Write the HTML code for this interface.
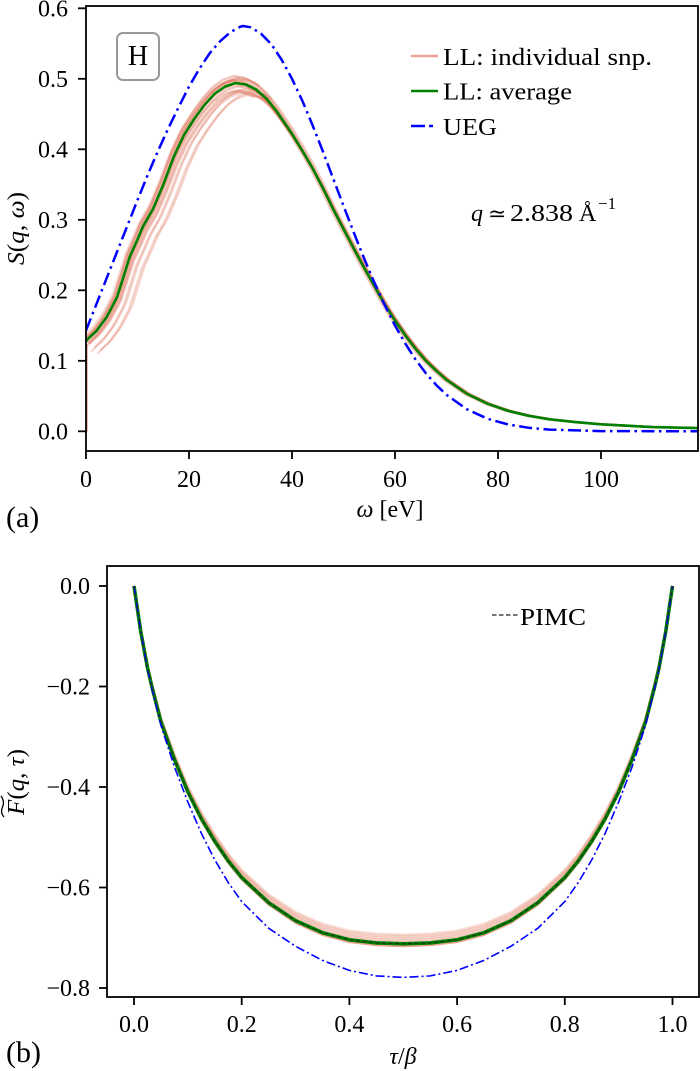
<!DOCTYPE html>
<html>
<head>
<meta charset="utf-8">
<style>
  html, body { margin: 0; padding: 0; background: #ffffff; }
  svg { display: block; }
  text { font-family: "Liberation Serif", "DejaVu Serif", serif; fill: #000; }
  .it { font-style: italic; }
</style>
</head>
<body>
<svg width="700" height="1071" viewBox="0 0 700 1071" xmlns="http://www.w3.org/2000/svg">
  <defs>
    <clipPath id="clipA"><rect x="86" y="6" width="612" height="445"/></clipPath>
    <clipPath id="clipB"><rect x="107" y="566" width="592" height="431"/></clipPath>
    <path id="llS" d="M86,341 L88.6,338.2 L96.3,331.2 L106.6,317.1 L116.9,297.4 L122.1,281.1 L129.8,256.5 L137.5,239.5 L142.7,226.9 L152.9,209.2 L163.3,184.6 L173.6,157.1 L183.9,135.2 L194.2,119 L204.5,104.9 L214.8,93.6 L225.1,86.6 L235.4,83 L245.7,84.4 L256,89.4 L266.3,98.5 L276.6,111.2 L292,133.8 L302.3,150.7 L312.6,168.3 L322.9,188.1 L333.2,209.2 L343.5,229 L353.8,248.7 L364.1,267.7 L374.4,286.1 L384.7,304.4 L395,320.6 L405.3,335.4 L415.6,348.8 L425.9,360.8 L436.2,370.7 L446.5,379.8 L467.1,393.9 L487.7,403.8 L508.3,410.9 L528.9,415.8 L549.5,419.3 L575.3,422.1 L601,424.3 L626.8,425.7 L652.5,427.1 L698,428.1"/>
    <path id="llL" d="M86,341 L88.6,338.2 L96.3,331.2 L106.6,317.1 L116.9,297.4 L122.1,281.1 L129.8,256.5 L137.5,239.5 L142.7,226.9 L152.9,209.2 L163.3,184.6 L173.6,157.1 L183.9,135.2 L194.2,119 L204.5,104.9 L214.8,93.6 L225.1,86.6 L235.4,83 L245.7,84.4 L256,89.4"/>
    <path id="llB" d="M134,586 L140.7,631.2 L147.5,667.9 L151.8,686.5 L160.9,721.7 L174.4,759.4 L187.9,792 L201.3,818.7 L214.8,841.3 L228.2,860.9 L241.7,877.5 L268.6,902.6 L295.6,920.7 L322.5,932.7 L349.4,939.8 L376.3,942.9 L403.3,943.8 L430.2,942.9 L457.1,939.8 L484,932.7 L510.9,920.7 L537.9,902.6 L564.8,877.5 L578.3,860.9 L591.7,841.3 L605.2,818.7 L618.6,792 L632.1,759.4 L645.6,721.7 L654.7,686.5 L659,667.9 L665.8,631.2 L672.5,586"/>
  </defs>

  <!-- ================= PANEL (a) ================= -->
  <g clip-path="url(#clipA)" fill="none" stroke-linejoin="round" stroke-linecap="round">
    <g stroke="#d95c3e" stroke-opacity="0.25" stroke-width="2.2">
      <use href="#llL" transform="translate(12,12)"/>
      <use href="#llL" transform="translate(9,6)"/>
      <use href="#llL" transform="translate(6,10)"/>
      <use href="#llL" transform="translate(15,9)"/>
      <use href="#llL" transform="translate(-2,8)"/>
      <use href="#llL" transform="translate(3,-4)"/>
      <use href="#llL" transform="translate(-4,-3)"/>
    </g>
    <g stroke="#d95c3e" stroke-opacity="0.34" stroke-width="2.2">
      <use href="#llS" transform="matrix(1,0,0,1.02,-2,-8.63)"/>
      <use href="#llS" transform="matrix(1,0,0,1.01,-1,-4.31)"/>
      <use href="#llS" transform="matrix(1,0,0,1.015,1,-6.47)"/>
      <use href="#llS" transform="matrix(1,0,0,0.995,0,2.16)"/>
      <use href="#llS" transform="matrix(1,0,0,0.99,2,4.31)"/>
      <use href="#llS" transform="matrix(1,0,0,0.98,3,8.63)"/>
      <use href="#llS" transform="matrix(1,0,0,1.005,-3,-2.16)"/>
      <use href="#llS" transform="matrix(1,0,0,0.975,4,10.78)"/>
    </g>
    <path d="M87,431 L87,345" stroke="#d95c3e" stroke-opacity="0.4" stroke-width="2"/>
    <use href="#llS" stroke="#008000" stroke-width="2.6"/>
    <path d="M86,330.5 L96.3,304.4 L106.6,278.3 L116.9,252.2 L127.2,226.1 L137.5,200.1 L147.8,174.7 L158.1,150.7 L168.4,128.1 L178.7,107 L189,86.6 L199.3,68.9 L209.6,53.4 L219.9,41.4 L230.2,32.3 L240.5,26.6 L243.1,26 L250.8,27.3 L261.1,33.7 L271.4,44.3 L281.7,59.8 L292,78.8 L302.3,100.7 L312.6,125.3 L322.9,151.4 L333.2,178.6 L343.5,205.8 L353.8,232.6 L364.1,258.4 L374.4,282.7 L384.7,305.1 L395,325.5 L405.3,343.6 L415.6,359.6 L425.9,373.3 L436.2,385 L446.5,394.8 L467.1,409.4 L487.7,418.8 L508.3,424.5 L528.9,427.8 L549.5,429.6 L601,431.1 L698,431.3"
          stroke="#0000ff" stroke-width="2.5" stroke-linecap="butt" stroke-dasharray="13 4.5 2.5 4.5"/>
  </g>

  <rect x="86" y="6" width="612" height="445" fill="none" stroke="#000" stroke-width="1.8"/>

  <g stroke="#000" stroke-width="1.8">
    <line x1="78" y1="431.3" x2="86" y2="431.3"/>
    <line x1="78" y1="360.8" x2="86" y2="360.8"/>
    <line x1="78" y1="290.3" x2="86" y2="290.3"/>
    <line x1="78" y1="219.8" x2="86" y2="219.8"/>
    <line x1="78" y1="149.3" x2="86" y2="149.3"/>
    <line x1="78" y1="78.8" x2="86" y2="78.8"/>
    <line x1="78" y1="8.3" x2="86" y2="8.3"/>
  </g>
  <g font-size="24" text-anchor="end">
    <text x="68" y="439.5">0.0</text>
    <text x="68" y="369">0.1</text>
    <text x="68" y="298.5">0.2</text>
    <text x="68" y="228">0.3</text>
    <text x="68" y="157.5">0.4</text>
    <text x="68" y="87">0.5</text>
    <text x="68" y="16.5">0.6</text>
  </g>

  <g stroke="#000" stroke-width="1.8">
    <line x1="86" y1="451" x2="86" y2="459"/>
    <line x1="189" y1="451" x2="189" y2="459"/>
    <line x1="292" y1="451" x2="292" y2="459"/>
    <line x1="395" y1="451" x2="395" y2="459"/>
    <line x1="498" y1="451" x2="498" y2="459"/>
    <line x1="601" y1="451" x2="601" y2="459"/>
  </g>
  <g font-size="24" text-anchor="middle">
    <text x="86" y="487">0</text>
    <text x="189" y="487">20</text>
    <text x="292" y="487">40</text>
    <text x="395" y="487">60</text>
    <text x="498" y="487">80</text>
    <text x="601" y="487">100</text>
  </g>

  <text x="390" y="517" font-size="24" text-anchor="middle"><tspan class="it">ω</tspan> [eV]</text>
  <text transform="translate(24,228.5) rotate(-90)" font-size="24" text-anchor="middle" textLength="73" lengthAdjust="spacingAndGlyphs"><tspan class="it">S</tspan>(<tspan class="it">q</tspan>, <tspan class="it">ω</tspan>)</text>
  <text x="6" y="527" font-size="30">(a)</text>

  <rect x="117" y="33" width="42" height="47" rx="6" ry="6" fill="#fff" stroke="#999" stroke-width="2"/>
  <text x="138" y="65" font-size="28" text-anchor="middle">H</text>

  <line x1="411" y1="56" x2="438" y2="56" stroke="#e9a494" stroke-width="2.5"/>
  <line x1="411" y1="91" x2="438" y2="91" stroke="#008000" stroke-width="2.5"/>
  <line x1="411" y1="126" x2="425" y2="126" stroke="#0000ff" stroke-width="2.5"/>
  <line x1="429" y1="126" x2="433" y2="126" stroke="#0000ff" stroke-width="2.5"/>
  <g font-size="24.5">
    <text x="443" y="65" textLength="209" lengthAdjust="spacingAndGlyphs">LL: individual snp.</text>
    <text x="443" y="99.5" textLength="129" lengthAdjust="spacingAndGlyphs">LL: average</text>
    <text x="443" y="135" textLength="54" lengthAdjust="spacingAndGlyphs">UEG</text>
  </g>

  <text x="471" y="221" font-size="24" class="it">q</text>
  <text x="488" y="221" font-size="22">≃</text>
  <text x="510" y="221" font-size="24" textLength="63" lengthAdjust="spacingAndGlyphs">2.838</text>
  <text x="579" y="221" font-size="24">Å</text>
  <text x="598" y="209" font-size="17" font-family="Liberation Serif, serif">−1</text>

  <!-- ================= PANEL (b) ================= -->
  <g clip-path="url(#clipB)" fill="none" stroke-linejoin="round">
    <g stroke="#e06a4a" stroke-opacity="0.22" stroke-width="3">
      <use href="#llB" transform="matrix(1,0,0,0.975,0,14.65)"/>
      <use href="#llB" transform="matrix(1,0,0,0.98,0,11.72)"/>
      <use href="#llB" transform="matrix(1,0,0,0.985,0,8.79)"/>
      <use href="#llB" transform="matrix(1,0,0,0.99,0,5.86)"/>
      <use href="#llB" transform="matrix(1,0,0,0.995,0,2.93)"/>
    </g>
    <g stroke="#e04a2a" stroke-opacity="0.5" stroke-width="2.5">
      <use href="#llB" transform="matrix(1,0,0,1.006,0,-3.52)"/>
    </g>
    <use href="#llB" stroke="#008000" stroke-width="3.6"/>
    <path d="M134,586 L140.7,631.2 L147.5,668.9 L151.8,688 L160.9,725.2 L174.4,766.9 L187.9,802.1 L201.3,833.2 L214.8,859.9 L228.2,882.5 L241.7,901.6 L268.6,928.2 L295.6,946.3 L322.5,960.4 L349.4,970.4 L376.3,975.9 L403.3,977.4 L430.2,975.9 L457.1,970.4 L484,960.4 L510.9,946.3 L537.9,928.2 L564.8,901.6 L578.3,882.5 L591.7,859.9 L605.2,833.2 L618.6,802.1 L632.1,766.9 L645.6,725.2 L654.7,688 L659,668.9 L665.8,631.2 L672.5,586"
          stroke="#0000ff" stroke-width="1.6" stroke-dasharray="9 3 2 3"/>
    <use href="#llB" stroke="#222" stroke-opacity="0.75" stroke-width="1.2" stroke-dasharray="4 2.5"/>
  </g>

  <rect x="107" y="566" width="592" height="431" fill="none" stroke="#000" stroke-width="1.8"/>

  <g stroke="#000" stroke-width="1.8">
    <line x1="99" y1="586" x2="107" y2="586"/>
    <line x1="99" y1="686.5" x2="107" y2="686.5"/>
    <line x1="99" y1="787" x2="107" y2="787"/>
    <line x1="99" y1="887.5" x2="107" y2="887.5"/>
    <line x1="99" y1="988" x2="107" y2="988"/>
  </g>
  <g font-size="24" text-anchor="end">
    <text x="90" y="594">0.0</text>
    <text x="90" y="694.5">−0.2</text>
    <text x="90" y="795">−0.4</text>
    <text x="90" y="895.5">−0.6</text>
    <text x="90" y="996">−0.8</text>
  </g>

  <g stroke="#000" stroke-width="1.8">
    <line x1="134" y1="997" x2="134" y2="1005"/>
    <line x1="241.7" y1="997" x2="241.7" y2="1005"/>
    <line x1="349.4" y1="997" x2="349.4" y2="1005"/>
    <line x1="457.1" y1="997" x2="457.1" y2="1005"/>
    <line x1="564.8" y1="997" x2="564.8" y2="1005"/>
    <line x1="672.5" y1="997" x2="672.5" y2="1005"/>
  </g>
  <g font-size="24" text-anchor="middle">
    <text x="134" y="1032">0.0</text>
    <text x="241.7" y="1032">0.2</text>
    <text x="349.4" y="1032">0.4</text>
    <text x="457.1" y="1032">0.6</text>
    <text x="564.8" y="1032">0.8</text>
    <text x="672.5" y="1032">1.0</text>
  </g>

  <text x="403" y="1064" font-size="24" text-anchor="middle"><tspan class="it">τ</tspan>/<tspan class="it">β</tspan></text>
  <g transform="translate(24,782) rotate(-90)">
    <text x="0" y="0" font-size="24" text-anchor="middle" textLength="66" lengthAdjust="spacingAndGlyphs"><tspan class="it">F</tspan>(<tspan class="it">q</tspan>, <tspan class="it">τ</tspan>)</text>
    <path d="M-35,-20 q4.5,-4 10,-1.5 t11,-1.5" fill="none" stroke="#000" stroke-width="1.3"/>
  </g>
  <text x="6" y="1062" font-size="30">(b)</text>

  <line x1="492" y1="615" x2="518" y2="615" stroke="#222" stroke-width="1.3" stroke-dasharray="4.5 2.5"/>
  <text x="520" y="625" font-size="24.5" textLength="66" lengthAdjust="spacingAndGlyphs">PIMC</text>
</svg>
</body>
</html>
